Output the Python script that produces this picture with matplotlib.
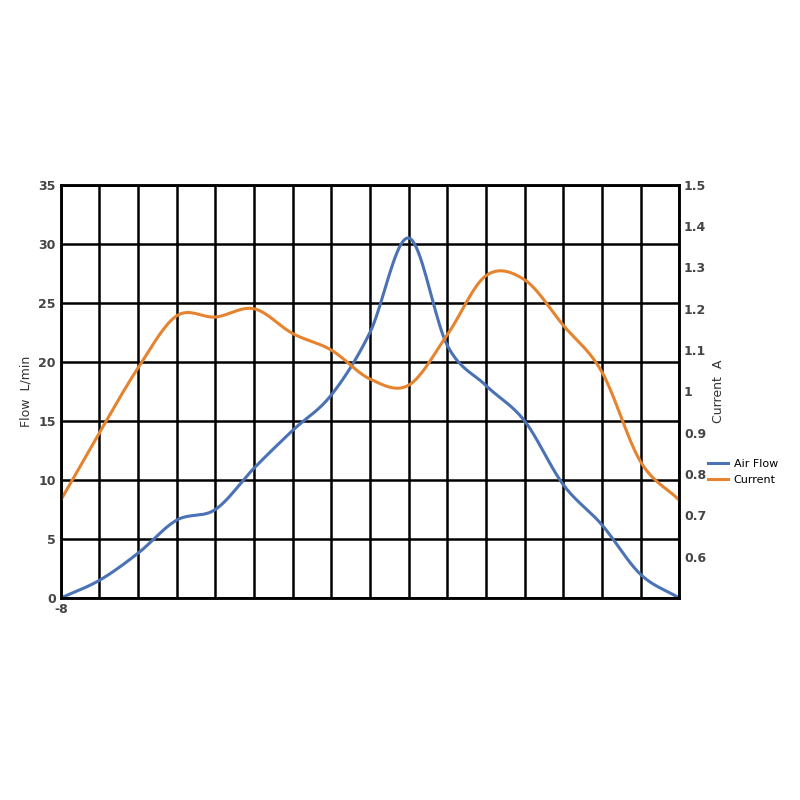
import matplotlib
matplotlib.use("Agg")
import matplotlib.pyplot as plt
import numpy as np

x = list(range(-8, 9))
air_flow = [0, 1.5, 3.8, 6.6, 7.5, 11, 14.2, 17.2, 22.5, 30.5, 21.4, 18, 15, 9.6, 6.2, 2, 0]
current = [0.737, 0.90, 1.057, 1.183, 1.18, 1.20, 1.14, 1.10, 1.03, 1.015, 1.137, 1.28, 1.27, 1.16, 1.047, 0.83, 0.737]

def smooth(xs, ys, n=20):
    xs = np.asarray(xs, float); ys = np.asarray(ys, float)
    P = np.concatenate([[2*ys[0]-ys[1]], ys, [2*ys[-1]-ys[-2]]])
    ox, oy = [], []
    for i in range(len(xs)-1):
        t = np.linspace(0, 1, n, endpoint=False)
        p0, p1, p2, p3 = P[i], P[i+1], P[i+2], P[i+3]
        oy.extend(0.5*((2*p1) + (-p0+p2)*t + (2*p0-5*p1+4*p2-p3)*t**2 + (-p0+3*p1-3*p2+p3)*t**3))
        ox.extend(xs[i] + t*(xs[i+1]-xs[i]))
    ox.append(xs[-1]); oy.append(ys[-1])
    return ox, oy

fig = plt.figure(figsize=(8, 8), dpi=100)
ax = fig.add_axes([0.076, 0.2525, 0.773, 0.5165])
ax2 = ax.twinx()

ax.set_xlim(-8, 8); ax.set_ylim(0, 35)
ax2.set_ylim(0.5, 1.5)
ax.set_xticks(x)
ax.set_xticklabels(["-8"] + [""]*16)
ax.set_yticks(range(0, 36, 5))
ax2.set_yticks([0.6,0.7,0.8,0.9,1.0,1.1,1.2,1.3,1.4,1.5])
ax2.set_yticklabels(["0.6","0.7","0.8","0.9","1","1.1","1.2","1.3","1.4","1.5"])
ax.grid(True, color="black", linewidth=1.8)
ax.set_axisbelow(True)
for a in (ax, ax2):
    for s in a.spines.values():
        s.set_color("black"); s.set_linewidth(1.8)
    a.tick_params(length=0, labelsize=9, colors="#444444")
for lab in ax.get_yticklabels() + ax.get_xticklabels() + ax2.get_yticklabels():
    lab.set_fontweight("bold")

l1, = ax.plot(*smooth(x, air_flow), color="#4a72b5", lw=2.2, label="Air Flow")
l2, = ax2.plot(*smooth(x, current), color="#e6832e", lw=2.2, label="Current")
ax.set_ylabel("Flow  L/min", fontsize=9, color="#333333")
ax2.set_ylabel("Current  A", fontsize=9, color="#333333")
fig.legend(handles=[l1, l2], loc="center left", bbox_to_anchor=(0.885, 0.41), frameon=False,
           fontsize=8, handlelength=1.8, handletextpad=0.5, borderaxespad=0, borderpad=0)
fig.savefig("out.png")
